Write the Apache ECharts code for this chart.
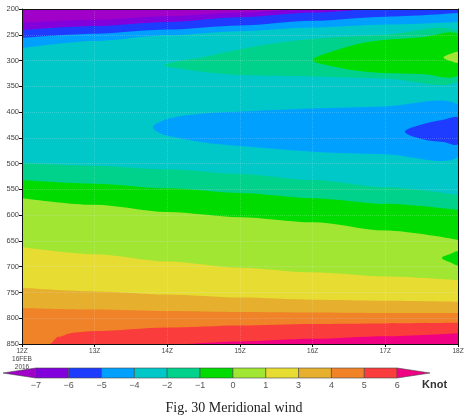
<!DOCTYPE html>
<html>
<head>
<meta charset="utf-8">
<script src="https://cdn.jsdelivr.net/npm/echarts@6/dist/echarts.min.js"></script>
<style>
  html, body { margin: 0; padding: 0; background: #fff; }
  #chart { width: 468px; height: 418px; }
</style>
</head>
<body>
<div id="chart"></div>
<script>
// hours after 12Z 16FEB2016
var hours = [0, 1, 2, 3, 4, 5, 6];
var timeLabels = ['12Z\n16FEB\n2016', '13Z', '14Z', '15Z', '16Z', '17Z', '18Z'];

// shading intervals (knot), colorbar labels
var cbLabels = ['\u22127', '\u22126', '\u22125', '\u22124', '\u22122', '\u22121', '0', '1', '3', '4', '5', '6'];
var shadeColors = ['#a000c8', '#8200dc', '#1e3cff', '#00a0ff', '#00c8c8', '#00d28c',
                   '#00dc00', '#a0e632', '#e6dc32', '#e6af2d', '#f08228', '#fa3c3c', '#f00082'];

// contour boundaries: pressure (hPa) at each hour, top to bottom
var darkPurpleEdge = [227, 221, 214, 207, 199, 192, 186];
var blueEdge       = [241, 233, 225, 216, 207, 199, 192];
var lightBlueEdge  = [256, 248, 240, 232, 223, 215, 208];
var cyanEdge       = [276, 262, 251, 243, 236, 230, 225];
var aquaEdge       = [499, 504, 511, 520, 532, 546, 561];
var greenEdge      = [532, 539, 548, 557, 567, 578, 590];
var yellowGreenEdge= [567, 580, 594, 604, 614, 630, 648];
var yellowEdge     = [662, 676, 690, 702, 711, 719, 726];
var goldEdge       = [741, 748, 754, 760, 764, 766, 768];
var orangeEdge     = [780, 783, 786, 788, 789, 790, 790];
var redHours       = [0, 0.38, 0.5, 0.7, 1, 2, 3, 4, 5, 6];
var redEdge        = [860, 850, 836, 828, 825, 818, 814, 811, 810, 809];
var magentaHours   = [0, 2, 3, 4, 5, 6];
var magentaEdge    = [860, 851, 845, 840, 835, 829];

// closed tongues [hour, hPa]
var aquaTongue = [[1.95, 309], [2.2, 300], [2.5, 293], [3, 278], [3.5, 266], [4, 258], [5, 250], [6, 244],
                  [6, 340], [5, 335], [4, 331], [3, 328], [2.5, 322], [2.2, 316]];
var greenTongue = [[4.0, 299], [4.3, 281], [4.76, 264], [5.5, 255], [6, 250],
                   [6, 328], [5.5, 326], [4.76, 322], [4.3, 312]];
var yellowGreenTip = [[5.8, 294], [5.9, 287], [6, 284], [6, 304], [5.9, 301]];
var lightBlueTongue = [[1.8, 430], [1.9, 419], [2.1, 410], [2.5, 403], [3, 399], [4, 393], [5, 389], [6, 386],
                       [6, 487], [5, 482], [4, 477], [3, 466], [2.5, 459], [2.1, 449], [1.9, 441]];
var blueTip = [[5.27, 438], [5.5, 424], [5.8, 415], [6, 411], [6, 462], [5.8, 458], [5.5, 452]];
var greenTip = [[5.78, 683], [5.9, 675], [6, 671], [6, 697], [5.9, 692]];

var bands = [
  [hours, darkPurpleEdge, 1], [hours, blueEdge, 2], [hours, lightBlueEdge, 3], [hours, cyanEdge, 4],
  [hours, aquaEdge, 5], [hours, greenEdge, 6], [hours, yellowGreenEdge, 7], [hours, yellowEdge, 8],
  [hours, goldEdge, 9], [hours, orangeEdge, 10], [redHours, redEdge, 11], [magentaHours, magentaEdge, 12]
];
var tongues = [
  [aquaTongue, 5], [greenTongue, 6], [yellowGreenTip, 7],
  [lightBlueTongue, 3], [blueTip, 2], [greenTip, 6]
];

var chart = echarts.init(document.getElementById('chart'));

var series = bands.map(function (b) {
  return {
    type: 'line',
    xAxisIndex: 0, yAxisIndex: 0,
    silent: true,
    showSymbol: false,
    smooth: 0.3,
    smoothMonotone: 'x',
    z: 2,
    lineStyle: { width: 0, opacity: 0 },
    areaStyle: { color: shadeColors[b[2]], opacity: 1, origin: 'end' },
    data: b[0].map(function (t, i) { return [t, b[1][i]]; })
  };
});

// closed tongues, one custom series each so they stack in order
tongues.forEach(function (tg) {
  series.push({
    type: 'custom',
    xAxisIndex: 0, yAxisIndex: 0,
    silent: true,
    clip: true,
    z: 4,
    data: [tg[0][0]],
    renderItem: function (params, api) {
      var pts = tg[0].map(function (p) { return api.coord(p); });
      return {
        type: 'polygon',
        shape: { points: pts, smooth: 0.35 },
        style: { fill: shadeColors[tg[1]] }
      };
    }
  });
});

// colorbar
series.push({
  type: 'custom',
  xAxisIndex: 2, yAxisIndex: 2,
  silent: true,
  data: shadeColors.map(function (c, i) { return [i - 1, 0]; }),
  renderItem: function (params, api) {
    var k = params.dataIndex;
    var pts;
    if (k === 0) {
      pts = [api.coord([-1, 0.5]), api.coord([0, 1]), api.coord([0, 0])];
    } else if (k === shadeColors.length - 1) {
      pts = [api.coord([k - 1, 0]), api.coord([k - 1, 1]), api.coord([k, 0.5])];
    } else {
      pts = [api.coord([k - 1, 0]), api.coord([k - 1, 1]), api.coord([k, 1]), api.coord([k, 0])];
    }
    return {
      type: 'polygon',
      shape: { points: pts },
      style: { fill: shadeColors[k], stroke: '#444', lineWidth: 0.6 }
    };
  }
});

var gridLine = { show: true, lineStyle: { color: 'rgba(255,255,255,0.18)', type: 'dotted', width: 1 } };

var option = {
  backgroundColor: '#fff',
  animation: false,
  grid: [
    { left: 22, right: 10, top: 9, bottom: 74, show: true, backgroundColor: shadeColors[0], borderWidth: 0 },
    { left: 2, right: 38, top: 368, height: 10 }
  ],
  xAxis: [
    {
      type: 'value', gridIndex: 0, min: 0, max: 6, interval: 1, z: 10,
      axisLine: { show: true, onZero: false, lineStyle: { color: '#111', width: 1 } },
      axisTick: { show: true, length: 3, lineStyle: { color: '#111' } },
      splitLine: gridLine,
      axisLabel: {
        color: '#444', fontSize: 6.5, lineHeight: 8, margin: 3,
        fontFamily: 'Liberation Sans, Arial, sans-serif',
        formatter: function (v) { return timeLabels[v]; }
      }
    },
    {
      type: 'value', gridIndex: 0, min: 0, max: 6, position: 'top', z: 10,
      axisLine: { show: true, onZero: false, lineStyle: { color: '#111', width: 1 } },
      axisTick: { show: false }, axisLabel: { show: false }, splitLine: { show: false }
    },
    {
      type: 'value', gridIndex: 1, min: -1, max: 12, interval: 1,
      axisLine: { show: false }, axisTick: { show: false }, splitLine: { show: false },
      axisLabel: {
        color: '#555', fontSize: 9, margin: 3,
        fontFamily: 'Liberation Sans, Arial, sans-serif',
        formatter: function (v) { return (v >= 0 && v < cbLabels.length) ? cbLabels[v] : ''; }
      }
    }
  ],
  yAxis: [
    {
      type: 'value', gridIndex: 0, min: 200, max: 850, interval: 50, inverse: true, z: 10,
      axisLine: { show: true, onZero: false, lineStyle: { color: '#111', width: 1 } },
      axisTick: { show: true, length: 3, lineStyle: { color: '#111' } },
      splitLine: gridLine,
      axisLabel: { color: '#444', fontSize: 7.5, margin: 3, fontFamily: 'Liberation Sans, Arial, sans-serif' }
    },
    {
      type: 'value', gridIndex: 0, min: 200, max: 850, inverse: true, position: 'right', z: 10,
      axisLine: { show: true, onZero: false, lineStyle: { color: '#111', width: 1 } },
      axisTick: { show: false }, axisLabel: { show: false }, splitLine: { show: false }
    },
    {
      type: 'value', gridIndex: 1, min: 0, max: 1, show: false
    }
  ],
  graphic: [
    {
      type: 'text', left: 422, top: 379,
      style: { text: 'Knot', fontSize: 11, fontWeight: 'bold', fill: '#333',
               fontFamily: 'Liberation Sans, Arial, sans-serif' }
    },
    {
      type: 'text', left: 'center', top: 401,
      style: { text: 'Fig. 30 Meridional wind', fontSize: 14, fill: '#222',
               fontFamily: 'Liberation Serif, Times New Roman, serif' }
    }
  ],
  series: series
};

chart.setOption(option);
</script>
</body>
</html>
